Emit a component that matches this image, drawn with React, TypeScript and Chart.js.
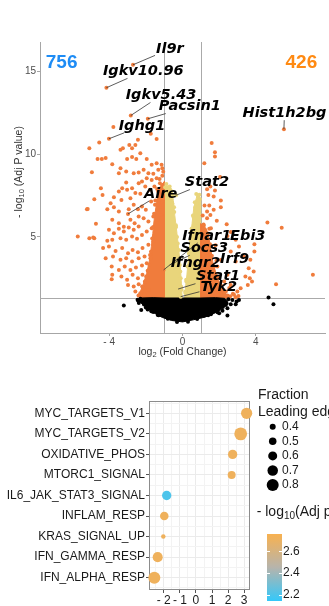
import React, { useEffect, useRef } from 'react';
import { Chart, registerables } from 'chart.js';

Chart.register(...registerables);

const SANS = "'Liberation Sans', Arial, Helvetica, sans-serif";
const GENE_FONT = "italic bold 14.5px 'DejaVu Sans', sans-serif";
const ORANGE = '#F07C3C';
const YELLOW = '#E9D57B';
const BLACK = '#000000';

// ---------------- Volcano data ----------------
const volXTicks = [-4, 0, 4];
const volYTicks = [5, 10, 15];
const fcCutoffs = [-1, 1];
const pCutoff = 1.3;
const countTexts = ['756', '426'];
const countX = [-6.59, 6.48];
const countY = [15.55, 15.55];

const downPoints: number[][] = [
  [-5.08, 10.37], [-4.54, 10.72], [-3.38, 10.27], [-2.9, 10.57], [-2.43, 10.88], [-2.57, 10.57], [-1.41, 10.92],
  [-3.77, 11.66], [-1.73, 11.24], [-2.75, 10.37], [-3.25, 10.37],
  [-4.63, 9.71], [-4.4, 9.71], [-4.19, 9.77], [-3.83, 9.4], [-3.38, 9.16], [-3.02, 9.71], [-2.75, 9.83], [-2.52, 9.71],
  [-2.3, 10.07], [-1.95, 9.71], [-1.68, 9.36], [-1.41, 9.46], [-1.14, 9.36],
  [-4.94, 8.92], [-3.47, 8.86], [-3.07, 8.96], [-2.66, 8.86], [-2.39, 8.9], [-2.12, 9.06], [-1.86, 8.86], [-1.59, 8.82],
  [-1.32, 9.06], [-1.1, 9.16],
  [-3.07, 8.29], [-3.29, 7.95], [-3.02, 7.85], [-2.75, 7.95], [-2.39, 8.25], [-2.21, 8.35], [-1.95, 8.55], [-1.68, 8.45],
  [-1.41, 8.55], [-1.23, 8.25],
  [-4.45, 7.95], [-4.36, 7.54], [-4.81, 7.28], [-3.74, 7.4], [-3.47, 7.75], [-3.33, 7.24], [-2.84, 7.34], [-2.57, 7.65],
  [-2.3, 7.61], [-2.03, 8.05], [-1.77, 7.85], [-1.53, 8.05], [-1.32, 7.75], [-1.14, 7.54],
  [-5.21, 6.68], [-4.1, 6.68], [-3.92, 7.04], [-3.74, 6.8], [-3.47, 6.53], [-2.93, 6.68], [-2.66, 6.94], [-2.43, 6.68],
  [-2.21, 6.84], [-2.0, 6.64], [-1.71, 7.14], [-1.5, 6.94], [-1.23, 6.84], [-1.1, 7.14],
  [-3.83, 6.03], [-3.47, 5.83], [-3.2, 5.62], [-2.84, 6.03], [-2.61, 5.83], [-2.39, 6.23], [-2.12, 6.13], [-1.86, 5.93],
  [-1.59, 6.23], [-1.35, 6.03], [-1.17, 6.33], [-4.72, 5.79],
  [-5.71, 5.02], [-5.08, 4.92], [-4.87, 4.96], [-4.01, 5.43], [-3.74, 5.22], [-3.47, 5.49], [-3.2, 5.33], [-2.93, 5.57],
  [-2.66, 5.43], [-2.39, 5.63], [-4.1, 4.76], [-3.83, 4.82], [-3.38, 4.92], [-3.07, 4.82], [-2.75, 5.02], [-2.48, 4.88],
  [-2.21, 5.12], [-1.95, 5.33], [-1.68, 5.53],
  [-4.33, 4.32], [-4.01, 4.42], [-3.65, 4.15], [-3.29, 4.32], [-2.97, 4.01], [-2.72, 4.21], [-2.43, 4.07], [-2.18, 4.32],
  [-1.86, 4.52], [-1.59, 4.72],
  [-4.19, 3.71], [-3.79, 3.81], [-3.38, 3.61], [-3.07, 3.71], [-2.75, 3.51], [-2.39, 3.71], [-2.07, 3.81], [-1.77, 3.91],
  [-3.86, 3.2], [-3.47, 3.0], [-3.15, 3.2], [-2.84, 3.0], [-2.54, 3.14], [-2.21, 3.26], [-1.95, 3.41],
  [-3.83, 2.7], [-3.86, 2.44], [-3.33, 2.6], [-3.02, 2.4], [-2.72, 2.7], [-2.43, 2.5], [-2.18, 2.7],
  [-2.97, 2.09], [-2.66, 1.99], [-2.39, 2.13], [-2.12, 1.89], [-2.57, 1.69], [-2.3, 1.59], [-2.07, 1.49], [-1.86, 1.79],
  [-5.17, 6.69], [-4.81, 4.91],
  [-1.72, 4.1], [-1.8, 3.3], [-1.98, 2.6], [-2.2, 2.0], [-2.4, 1.45], [-1.65, 4.9], [-1.6, 5.6], [-1.55, 6.4],
  [-1.48, 7.2], [-1.38, 7.9], [-1.25, 8.5], [-1.1, 8.7], [-1.05, 8.95], [-1.9, 2.95], [-2.05, 2.3], [-1.75, 3.7],
];

const upPoints: number[][] = [
  [1.59, 10.68], [1.77, 10.13], [1.77, 9.87], [1.19, 9.46], [2.05, 8.62], [1.34, 7.89], [1.52, 8.05], [1.77, 7.81],
  [1.41, 7.54], [1.7, 7.44], [2.09, 7.2], [1.46, 6.9], [2.09, 6.8], [1.34, 6.53], [1.7, 6.64], [1.52, 6.33], [1.34, 6.13],
  [1.87, 5.97], [2.41, 5.77], [1.16, 5.67], [1.55, 5.52], [4.63, 5.87], [5.41, 5.56],
  [1.46, 5.49], [1.34, 5.12], [2.63, 5.29], [2.9, 4.82], [3.92, 4.56], [3.92, 4.11], [3.08, 4.42], [2.63, 4.11],
  [3.34, 3.81], [2.9, 3.51], [3.7, 3.61], [3.61, 3.1], [3.88, 2.9], [3.43, 2.6], [3.67, 2.5], [3.56, 2.09], [3.79, 2.3],
  [3.17, 1.89], [2.99, 1.69], [2.81, 1.49], [7.11, 2.7], [5.1, 2.13], [2.45, 2.7], [2.27, 2.3], [2.63, 2.09], [2.09, 1.89],
  [2.36, 1.69], [2.6, 1.4], [2.75, 1.55], [2.55, 1.9], [2.9, 1.35], [3.05, 1.42], [1.9, 3.2], [2.1, 3.6], [1.8, 4.5],
  [2.45, 1.45], [2.3, 1.65], [2.1, 2.05], [1.9, 2.6], [1.72, 3.2], [1.6, 3.85], [1.5, 4.55], [1.38, 5.2], [1.15, 5.75],
  [1.1, 6.3], [1.2, 6.9],
];

const midPoints: number[][] = [
  [-0.95, 8.0], [-0.9, 7.7], [-0.6, 7.6], [-0.75, 7.3], [0.95, 7.3], [0.8, 7.0], [0.7, 6.8], [0.9, 6.5], [0.6, 6.2],
  [-0.45, 6.5], [-0.35, 5.6], [-0.3, 5.0], [0.5, 5.5], [0.45, 4.8], [-0.2, 4.2], [0.35, 4.0], [-0.15, 3.3], [0.28, 3.2],
  [-0.1, 2.5], [0.2, 2.4], [-0.05, 1.8], [0.15, 1.7], [0.85, 7.45], [-0.55, 7.0],
  [-0.08, 2.0], [-0.12, 2.9], [-0.18, 3.7], [-0.26, 4.6], [-0.36, 5.7], [-0.46, 6.8], [-0.55, 7.5], [-0.7, 8.05],
  [-0.88, 8.2], [0.15, 1.6], [0.21, 2.3], [0.28, 3.2], [0.37, 4.2], [0.47, 5.3], [0.57, 6.3], [0.67, 7.1], [0.75, 7.6],
  [0.92, 7.55],
];

const nsPoints: number[][] = [
  [-3.2, 0.84], [-2.25, 0.58], [-1.35, 0.27], [4.69, 1.33], [4.96, 0.92], [2.45, 0.24], [1.19, 0.24], [1.55, 0.32],
  [2.0, 0.38], [2.36, 0.88], [2.63, 0.92], [2.9, 0.92], [3.08, 1.18], [2.72, 1.18], [2.95, 1.08], [2.27, 1.04],
  [2.45, 0.68], [1.91, 0.44], [2.18, 0.52], [-2.3, 1.25], [-2.4, 1.1], [-2.1, 0.9], [-1.9, 0.6], [-1.6, 0.45],
  [-2.45, 1.2], [-2.38, 1.0], [-2.0, 0.72], [-1.7, 0.5], [-1.3, 0.25], [-0.8, 0.05], [0.8, 0.03], [1.4, 0.25],
  [1.9, 0.52], [2.2, 0.75], [2.4, 0.98], [2.5, 1.22], [-0.3, -0.15], [0.3, -0.14],
];

const blobOutline: number[][] = [
  [-2.3, 1.3], [-1.6, 1.32], [-1.0, 1.3], [0, 1.3], [1.0, 1.3], [1.8, 1.32], [2.3, 1.28], [2.45, 1.1], [2.35, 0.85],
  [2.1, 0.6], [1.75, 0.38], [1.25, 0.15], [0.6, -0.02], [0, -0.15], [-0.6, -0.06], [-1.1, 0.12], [-1.5, 0.36],
  [-1.85, 0.6], [-2.15, 0.88], [-2.4, 1.15], [-2.3, 1.3],
];
const midLeftOutline: number[][] = [
  [-0.97, 1.3], [-0.02, 1.3], [-0.06, 2.2], [-0.12, 3.2], [-0.2, 4.2], [-0.3, 5.2], [-0.42, 6.3], [-0.5, 7.2],
  [-0.58, 7.9], [-0.8, 8.1], [-0.97, 8.0], [-0.97, 1.3],
];
const midRightOutline: number[][] = [
  [0.12, 1.3], [1.0, 1.3], [1.0, 7.3], [0.78, 7.45], [0.62, 6.8], [0.52, 5.8], [0.42, 4.8], [0.32, 3.7],
  [0.24, 2.7], [0.17, 2.0], [0.12, 1.3],
];
const downDenseOutline: number[][] = [
  [-0.99, 1.3], [-2.3, 1.3], [-2.35, 1.55], [-2.15, 2.1], [-1.95, 2.8], [-1.8, 3.6], [-1.7, 4.4], [-1.62, 5.2],
  [-1.55, 6.0], [-1.45, 6.8], [-1.35, 7.5], [-1.2, 8.1], [-0.99, 8.35], [-0.99, 1.3],
];
const upDenseOutline: number[][] = [
  [0.99, 1.3], [2.5, 1.3], [2.4, 1.5], [2.2, 1.8], [2.0, 2.3], [1.8, 2.9], [1.65, 3.5], [1.55, 4.2], [1.45, 4.9],
  [1.3, 5.5], [0.99, 5.8], [0.99, 1.3],
];

const geneNames = ['Il9r', 'Igkv10.96', 'Igkv5.43', 'Pacsin1', 'Ighg1', 'Hist1h2bg', 'Stat2', 'Aire', 'Ifnar1', 'Ebi3', 'Socs3', 'Ifngr2', 'Irf9', 'Stat1', 'Tyk2'];
const geneX = [-2.7, -4.15, -2.82, -1.89, -4.01, 5.53, -0.35, -2.97, -1.03, 2.45, -0.7, -0.24, 1.85, -0.24, -0.1];
const geneY = [15.42, 14.03, 12.35, 12.15, 10.94, 11.52, 7.52, 6.39, 3.0, 5.06, 3.3, 2.95, 3.55, 1.84, 1.38];
const geneLabelX = [-0.69, -2.14, -1.17, 0.4, -2.21, 5.56, 1.33, -1.19, 1.32, 3.56, 1.19, 0.71, 2.84, 1.94, 1.98];
const geneLabelY = [16.37, 15.02, 13.56, 12.89, 11.72, 12.49, 8.29, 7.6, 5.06, 5.06, 4.31, 3.4, 3.64, 2.59, 1.98];

// ---------------- Pathway dot plot data ----------------
const pathways = ['MYC_TARGETS_V1', 'MYC_TARGETS_V2', 'OXIDATIVE_PHOS', 'MTORC1_SIGNAL', 'IL6_JAK_STAT3_SIGNAL', 'INFLAM_RESP', 'KRAS_SIGNAL_UP', 'IFN_GAMMA_RESP', 'IFN_ALPHA_RESP'];
const nes = [3.15, 2.78, 2.28, 2.22, -1.82, -1.97, -2.03, -2.38, -2.59];
const leadingEdge = [0.75, 0.85, 0.62, 0.53, 0.62, 0.57, 0.3, 0.67, 0.8];
const negLog10AdjP = [2.72, 2.72, 2.72, 2.72, 2.2, 2.72, 2.72, 2.72, 2.72];
const nesTicks = [-2, -1, 0, 1, 2, 3];
const sizeLegendValues = [0.4, 0.5, 0.6, 0.7, 0.8];
const colorbarTicks = [2.2, 2.4, 2.6];
const colorbarMin = 2.14;
const colorbarMax = 2.76;

// ---------------- helpers ----------------
const toXY = (arr: number[][]) => arr.map(([x, y]) => ({ x, y }));
const signedLabel = (v: number) => (v < 0 ? '- ' + Math.abs(v) : String(v));
const sizeFor = (f: number) => 3 + (f - 0.4) * 7.5;

const stops = [
  [52, 200, 250],
  [182, 180, 172],
  [248, 177, 80],
];
function colorFor(v: number) {
  let t = (v - colorbarMin) / (colorbarMax - colorbarMin);
  t = Math.max(0, Math.min(1, t));
  const seg = t < 0.5 ? 0 : 1;
  const lt = t < 0.5 ? t / 0.5 : (t - 0.5) / 0.5;
  const a = stops[seg], b = stops[seg + 1];
  const c = a.map((av, i) => Math.round(av + (b[i] - av) * lt));
  return `rgb(${c[0]},${c[1]},${c[2]})`;
}

function drawSubText(ctx: CanvasRenderingContext2D, parts: { t: string; sub?: boolean }[], cx: number, cy: number, size: number, subSize: number, color: string) {
  const fontMain = `${size}px ${SANS}`;
  const fontSub = `${subSize}px ${SANS}`;
  let total = 0;
  const widths = parts.map((p) => {
    ctx.font = p.sub ? fontSub : fontMain;
    const w = ctx.measureText(p.t).width;
    total += w;
    return w;
  });
  let x = cx - total / 2;
  ctx.fillStyle = color;
  ctx.textAlign = 'left';
  ctx.textBaseline = 'middle';
  parts.forEach((p, i) => {
    ctx.font = p.sub ? fontSub : fontMain;
    ctx.fillText(p.t, x, p.sub ? cy + size * 0.3 : cy);
    x += widths[i];
  });
}

const polygon = (data: number[][], color: string) => ({
  type: 'scatter' as const,
  data: toXY(data),
  showLine: true,
  fill: 'shape',
  tension: 0,
  backgroundColor: color,
  borderColor: color,
  borderWidth: 1,
  pointRadius: 0,
  order: 0,
});
const points = (data: { x: number; y: number }[], color: string | string[]) => ({
  type: 'scatter' as const,
  data,
  backgroundColor: color,
  borderWidth: 0,
  pointRadius: 2,
  pointBorderWidth: 0,
  order: 0,
});

const volcanoPlugin = {
  id: 'volcanoDecor',
  beforeDatasetsDraw(chart: any) {
    const { ctx, chartArea: a, scales } = chart;
    const x = scales.x, y = scales.y;
    ctx.save();
    ctx.strokeStyle = '#AAAAAA';
    ctx.lineWidth = 1;
    ctx.beginPath();
    fcCutoffs.forEach((v) => {
      const px = Math.round(x.getPixelForValue(v)) + 0.5;
      ctx.moveTo(px, a.top);
      ctx.lineTo(px, a.bottom);
    });
    const py = Math.round(y.getPixelForValue(pCutoff)) + 0.5;
    ctx.moveTo(a.left, py);
    ctx.lineTo(a.right, py);
    ctx.stroke();
    ctx.restore();
  },
  afterDatasetsDraw(chart: any) {
    const { ctx, chartArea: a, scales } = chart;
    const x = scales.x, y = scales.y;
    ctx.save();
    ctx.font = `bold 19px ${SANS}`;
    ctx.textAlign = 'center';
    ctx.textBaseline = 'middle';
    const countColors = ['#1E8CF5', '#FF8A12'];
    countTexts.forEach((t, i) => {
      ctx.fillStyle = countColors[i];
      ctx.fillText(t, x.getPixelForValue(countX[i]), y.getPixelForValue(countY[i]));
    });
    ctx.font = GENE_FONT;
    geneNames.forEach((name, i) => {
      const px = x.getPixelForValue(geneX[i]);
      const py = y.getPixelForValue(geneY[i]);
      const cx = x.getPixelForValue(geneLabelX[i]);
      const cy = y.getPixelForValue(geneLabelY[i]);
      const halfW = ctx.measureText(name).width / 2 + 1;
      const halfH = 7;
      const dx = cx - px, dy = cy - py;
      const tx = Math.abs(dx) > halfW ? 1 - halfW / Math.abs(dx) : 0;
      const ty = Math.abs(dy) > halfH ? 1 - halfH / Math.abs(dy) : 0;
      const t = Math.max(tx, ty, 0);
      if (t > 0 && Math.hypot(dx * t, dy * t) > 2) {
        ctx.strokeStyle = '#333333';
        ctx.lineWidth = 0.8;
        ctx.beginPath();
        ctx.moveTo(px, py);
        ctx.lineTo(px + dx * t, py + dy * t);
        ctx.stroke();
      }
    });
    ctx.fillStyle = '#000000';
    ctx.textAlign = 'center';
    ctx.textBaseline = 'middle';
    geneNames.forEach((name, i) => {
      ctx.fillText(name, x.getPixelForValue(geneLabelX[i]), y.getPixelForValue(geneLabelY[i]));
    });
    drawSubText(ctx, [{ t: 'log' }, { t: '2', sub: true }, { t: ' (Fold Change)' }], (a.left + a.right) / 2, 352, 10.5, 7.5, '#333333');
    ctx.translate(19, 172);
    ctx.rotate(-Math.PI / 2);
    drawSubText(ctx, [{ t: '- log' }, { t: '10', sub: true }, { t: ' (Adj P value)' }], 0, 0, 10.5, 7.5, '#333333');
    ctx.restore();
  },
};

function volcanoConfig(): any {
  const geneColors = geneX.map((v) => (Math.abs(v) > 1 ? ORANGE : YELLOW));
  const genePts = geneX.map((v, i) => ({ x: v, y: geneY[i] }));
  const list: any[] = [
    polygon(midLeftOutline, YELLOW),
    polygon(midRightOutline, YELLOW),
    polygon(downDenseOutline, ORANGE),
    polygon(upDenseOutline, ORANGE),
    points(toXY(midPoints), YELLOW),
    points(toXY(downPoints), ORANGE),
    points(toXY(upPoints), ORANGE),
    polygon(blobOutline, BLACK),
    points(toXY(nsPoints), BLACK),
    points(genePts, geneColors),
  ];
  list.forEach((d, i) => (d.order = list.length - i));
  return {
    type: 'scatter',
    data: { datasets: list },
    options: {
      responsive: false,
      animation: false,
      devicePixelRatio: 1,
      events: [],
      layout: { padding: { top: 42, right: 0, left: 0, bottom: 0 } },
      plugins: { legend: { display: false }, tooltip: { enabled: false } },
      scales: {
        x: {
          type: 'linear',
          min: -7.77,
          max: 7.77,
          afterBuildTicks: (s: any) => {
            s.ticks = volXTicks.map((v) => ({ value: v }));
          },
          afterFit: (s: any) => {
            s.height = 37;
          },
          ticks: {
            callback: (v: number) => signedLabel(v),
            font: { size: 10, family: SANS },
            color: '#4D4D4D',
            padding: 0,
            maxRotation: 0,
            autoSkip: false,
          },
          grid: { drawOnChartArea: false, tickLength: 3, color: '#A6A6A6' },
          border: { color: '#A6A6A6', width: 1 },
        },
        y: {
          type: 'linear',
          min: -0.82,
          max: 16.8,
          afterBuildTicks: (s: any) => {
            s.ticks = volYTicks.map((v) => ({ value: v }));
          },
          afterFit: (s: any) => {
            s.width = 40;
          },
          ticks: {
            font: { size: 10, family: SANS },
            color: '#4D4D4D',
            padding: 1,
            autoSkip: false,
          },
          grid: { drawOnChartArea: false, tickLength: 3, color: '#A6A6A6' },
          border: { color: '#A6A6A6', width: 1 },
        },
      },
    },
    plugins: [volcanoPlugin],
  };
}

const dotPlugin = {
  id: 'dotDecor',
  beforeDatasetsDraw(chart: any) {
    const { ctx, chartArea: a } = chart;
    ctx.save();
    ctx.strokeStyle = '#8C8C8C';
    ctx.lineWidth = 1;
    ctx.strokeRect(Math.round(a.left) + 0.5, Math.round(a.top) + 0.5, Math.round(a.right - a.left) - 1, Math.round(a.bottom - a.top) - 1);
    ctx.restore();
  },
  afterDraw(chart: any) {
    const { ctx } = chart;
    ctx.save();
    ctx.fillStyle = '#1A1A1A';
    ctx.textAlign = 'left';
    ctx.textBaseline = 'middle';
    ctx.font = `14px ${SANS}`;
    ctx.fillText('Fraction', 258, 25);
    ctx.fillText('Leading edge', 258, 42);
    ctx.font = `12px ${SANS}`;
    sizeLegendValues.forEach((f, i) => {
      const cy = 56.7 + i * 14.6;
      ctx.fillStyle = '#000000';
      ctx.beginPath();
      ctx.arc(272.7, cy, sizeFor(f), 0, Math.PI * 2);
      ctx.fill();
      ctx.fillStyle = '#1A1A1A';
      ctx.fillText(f.toFixed(1), 282, cy);
    });
    const parts = [{ t: '- log' }, { t: '10', sub: true }, { t: '(Adj p)' }];
    let w = 0;
    parts.forEach((p) => {
      ctx.font = p.sub ? `10px ${SANS}` : `14px ${SANS}`;
      w += ctx.measureText(p.t).width;
    });
    drawSubText(ctx, parts, 256.7 + w / 2, 141.7, 14, 10, '#1A1A1A');
    const top = 164, bottom = 231, left = 267, width = 15;
    const valToY = (v: number) => top + ((colorbarMax - v) / (colorbarMax - colorbarMin)) * (bottom - top);
    const grad = ctx.createLinearGradient(0, bottom, 0, top);
    for (let k = 0; k <= 20; k++) {
      const v = colorbarMin + ((colorbarMax - colorbarMin) * k) / 20;
      grad.addColorStop(k / 20, colorFor(v));
    }
    ctx.fillStyle = grad;
    ctx.fillRect(left, top, width, bottom - top);
    ctx.strokeStyle = '#FFFFFF';
    ctx.lineWidth = 1;
    ctx.font = `12px ${SANS}`;
    ctx.textAlign = 'left';
    colorbarTicks.forEach((v) => {
      const yy = Math.round(valToY(v)) + 0.5;
      ctx.beginPath();
      ctx.moveTo(left, yy);
      ctx.lineTo(left + 3, yy);
      ctx.moveTo(left + width - 3, yy);
      ctx.lineTo(left + width, yy);
      ctx.stroke();
      ctx.fillStyle = '#1A1A1A';
      ctx.fillText(v.toFixed(1), 283, valToY(v));
    });
    ctx.restore();
  },
};

function dotConfig(): any {
  const halfSteps = (lo: number, hi: number) => {
    const out: number[] = [];
    for (let v = lo; v <= hi + 1e-9; v += 0.5) out.push(Math.round(v * 2) / 2);
    return out;
  };
  return {
    type: 'scatter',
    data: {
      datasets: [
        {
          data: nes.map((v, i) => ({ x: v, y: i })),
          backgroundColor: negLog10AdjP.map(colorFor),
          pointRadius: leadingEdge.map(sizeFor),
          pointBorderWidth: 0,
          borderWidth: 0,
          clip: false,
        },
      ],
    },
    options: {
      responsive: false,
      animation: false,
      devicePixelRatio: 1,
      events: [],
      layout: { padding: { top: 31, right: 79, left: 0, bottom: 0 } },
      plugins: { legend: { display: false }, tooltip: { enabled: false } },
      scales: {
        x: {
          type: 'linear',
          min: -2.92,
          max: 3.36,
          afterBuildTicks: (s: any) => {
            s.ticks = halfSteps(-2.5, 3).map((v) => ({ value: v }));
          },
          afterFit: (s: any) => {
            s.height = 16;
          },
          ticks: {
            callback: (v: number) => (nesTicks.includes(v) ? signedLabel(v) : ''),
            font: { size: 12, family: SANS },
            color: '#1A1A1A',
            padding: 0,
            maxRotation: 0,
            autoSkip: false,
          },
          grid: {
            color: (c: any) => (Number.isInteger(c.tick?.value) ? '#EBEBEB' : '#F3F3F3'),
            tickColor: (c: any) => (Number.isInteger(c.tick?.value) ? '#555555' : 'rgba(0,0,0,0)'),
            tickLength: 3,
          },
          border: { display: false },
        },
        y: {
          type: 'linear',
          reverse: true,
          min: -0.6,
          max: 8.6,
          afterBuildTicks: (s: any) => {
            s.ticks = halfSteps(-0.5, 8.5).map((v) => ({ value: v }));
          },
          afterFit: (s: any) => {
            s.width = 149;
          },
          ticks: {
            callback: (v: number) => (Number.isInteger(v) ? pathways[v] : ''),
            font: { size: 12, family: SANS },
            color: '#1A1A1A',
            padding: 1,
            autoSkip: false,
          },
          grid: {
            color: (c: any) => (Number.isInteger(c.tick?.value) ? '#EBEBEB' : '#F3F3F3'),
            tickColor: (c: any) => (Number.isInteger(c.tick?.value) ? '#555555' : 'rgba(0,0,0,0)'),
            tickLength: 3,
          },
          border: { display: false },
        },
      },
    },
    plugins: [dotPlugin],
  };
}

export default function App() {
  const volRef = useRef<HTMLCanvasElement>(null);
  const dotRef = useRef<HTMLCanvasElement>(null);
  useEffect(() => {
    const c1 = new Chart(volRef.current as HTMLCanvasElement, volcanoConfig());
    const c2 = new Chart(dotRef.current as HTMLCanvasElement, dotConfig());
    return () => {
      c1.destroy();
      c2.destroy();
    };
  }, []);
  return (
    <div style={{ position: 'absolute', left: 0, top: 0, width: 329, height: 606, overflow: 'hidden', background: '#ffffff' }}>
      <canvas ref={volRef} width={329} height={370} style={{ position: 'absolute', left: 0, top: 0, width: 329, height: 370 }} />
      <canvas ref={dotRef} width={329} height={236} style={{ position: 'absolute', left: 0, top: 370, width: 329, height: 236 }} />
    </div>
  );
}
